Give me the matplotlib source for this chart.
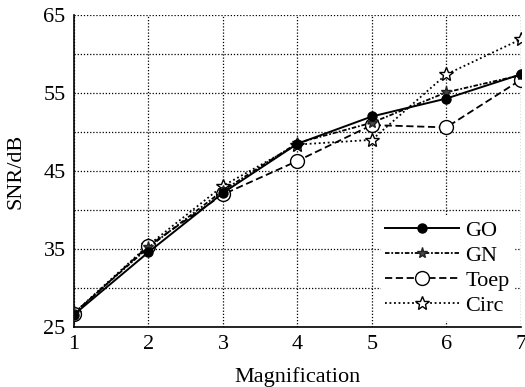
import matplotlib.pyplot as plt
import numpy as np

plt.rcParams['font.family'] = ['Liberation Serif', 'DejaVu Serif']

magnification = [1, 2, 3, 4, 5, 6, 7]
snr_go = [26.6, 34.6, 42.2, 48.5, 52.0, 54.3, 57.4]
snr_gn = [26.8, 35.2, 42.5, 48.6, 51.2, 55.1, 57.3]
snr_toep = [26.7, 35.4, 42.0, 46.3, 50.9, 50.6, 56.7]
snr_circ = [26.8, 35.5, 43.1, 48.4, 49.0, 57.4, 61.9]

fig = plt.figure(figsize=(5.25, 3.87), dpi=100)
ax = fig.add_axes([0.141, 0.155, 0.851, 0.806])

ax.plot(magnification, snr_go, color='black', linestyle='-', linewidth=1.4,
        marker='o', markersize=6.5, markerfacecolor='black', label='GO', zorder=5)
ax.plot(magnification, snr_gn, color='black', linestyle=(0, (2.5, 1, 1, 1)), linewidth=1.3,
        marker='*', markersize=8, markerfacecolor='#444444', markeredgecolor='#222222',
        label='GN', zorder=4)
ax.plot(magnification, snr_toep, color='black', linestyle=(0, (4, 2)), linewidth=1.3,
        marker='o', markersize=10, markerfacecolor='white', markeredgecolor='black',
        label='Toep', zorder=3)
ax.plot(magnification, snr_circ, color='black', linestyle=(0, (1, 1.5)), linewidth=1.3,
        marker='*', markersize=10, markerfacecolor='white', markeredgecolor='black',
        markeredgewidth=1.0, label='Circ', zorder=2)

ax.set_xlim(1, 7)
ax.set_ylim(25, 65)
ax.set_xticks(magnification)
ax.set_yticks(np.arange(25, 66, 5))
ax.set_yticklabels(['25', '', '35', '', '45', '', '55', '', '65'])
ax.grid(True, color='black', linestyle=(0, (1, 1.5)), linewidth=0.9)
ax.tick_params(direction='in', length=0, labelsize=16, pad=6)
for side in ['top', 'right']:
    ax.spines[side].set_visible(False)
for side in ['left', 'bottom']:
    ax.spines[side].set_linewidth(1.2)

ax.set_xlabel('Magnification', fontsize=16, labelpad=9)
ax.set_ylabel('SNR/dB', fontsize=16, labelpad=13)

leg = ax.legend(loc='lower right', fontsize=16, frameon=True, framealpha=1,
                edgecolor='white', handlelength=3.3, handletextpad=0.3,
                labelspacing=0.2, borderpad=0.2, borderaxespad=0.3)

fig.savefig('out.png', dpi=100)
